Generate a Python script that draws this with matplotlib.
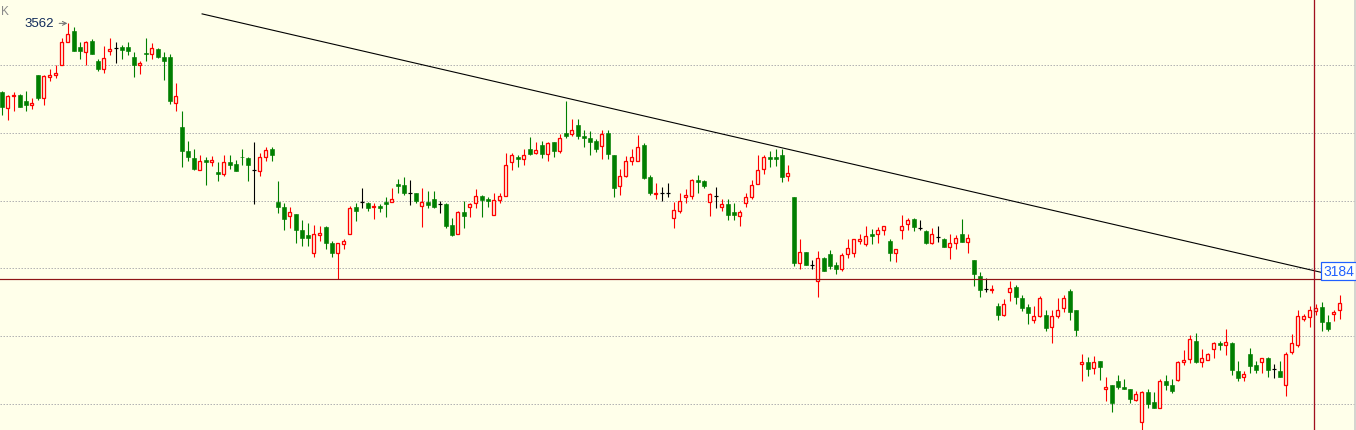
import numpy as np
import matplotlib
matplotlib.use("Agg")
import matplotlib.pyplot as plt

# daily bars (index 0 = leftmost candle)
opens = [3460, 3437, 3454, 3456, 3448, 3441, 3486, 3452, 3483, 3485,
         3500, 3535, 3551, 3527, 3519, 3536, 3507, 3494, 3521, 3526,
         3527, 3527, 3513, 3501, 3518, 3516, 3524, 3513, 3512, 3444,
         3409, 3374, 3363, 3346, 3360, 3357, 3342, 3340, 3357, 3354,
         3365, 3363, 3345, 3344, 3365, 3377, 3298, 3291, 3278, 3280,
         3256, 3249, 3223, 3249, 3261, 3237, 3223, 3236, 3251, 3291,
         3298, 3297, 3290, 3292, 3298, 3298, 3324, 3323, 3312, 3312,
         3292, 3298, 3302, 3295, 3295, 3264, 3251, 3283, 3290, 3296,
         3307, 3302, 3279, 3301, 3307, 3357, 3365, 3362, 3376, 3371,
         3382, 3369, 3386, 3374, 3400, 3398, 3412, 3396, 3392, 3388,
         3381, 3400, 3368, 3322, 3337, 3358, 3359, 3382, 3335, 3310,
         3312, 3312, 3274, 3284, 3305, 3307, 3330, 3329, 3298, 3307,
         3290, 3295, 3283, 3278, 3296, 3305, 3325, 3347, 3365, 3365,
         3368, 3337, 3306, 3208, 3224, 3205, 3181, 3215, 3221, 3205,
         3199, 3221, 3222, 3241, 3236, 3250, 3250, 3257, 3240, 3222,
         3257, 3266, 3273, 3260, 3255, 3237, 3246, 3244, 3232, 3238,
         3250, 3239, 3212, 3189, 3169, 3168, 3144, 3131, 3165, 3172,
         3156, 3143, 3124, 3130, 3131, 3114, 3130, 3141, 3166, 3138,
         3058, 3061, 3052, 3063, 3022, 3028, 3033, 3025, 3022, 3006,
         2973, 3017, 3002, 2994, 3034, 3028, 3035, 3061, 3066, 3093,
         3062, 3064, 3081, 3089, 3086, 3090, 3048, 3040, 3073, 3057,
         3061, 3067, 3051, 3048, 3028, 3076, 3086, 3125, 3128, 3137,
         3143, 3120, 3132, 3138]
highs = [3462, 3456, 3460, 3457, 3462, 3452, 3486, 3486, 3495, 3500,
         3540, 3562, 3557, 3535, 3536, 3539, 3509, 3528, 3540, 3534,
         3530, 3534, 3519, 3506, 3540, 3533, 3525, 3519, 3516, 3474,
         3433, 3388, 3377, 3368, 3365, 3366, 3357, 3368, 3368, 3360,
         3377, 3365, 3386, 3370, 3380, 3380, 3329, 3297, 3291, 3280,
         3271, 3267, 3264, 3262, 3262, 3240, 3238, 3244, 3292, 3297,
         3318, 3298, 3297, 3295, 3306, 3318, 3332, 3335, 3330, 3312,
         3318, 3314, 3314, 3300, 3297, 3274, 3285, 3300, 3297, 3317,
         3309, 3306, 3312, 3312, 3370, 3370, 3368, 3376, 3394, 3386,
         3388, 3386, 3386, 3398, 3448, 3421, 3421, 3404, 3403, 3391,
         3404, 3404, 3368, 3347, 3366, 3376, 3397, 3385, 3338, 3326,
         3320, 3326, 3298, 3312, 3317, 3332, 3338, 3330, 3311, 3320,
         3302, 3302, 3297, 3286, 3312, 3330, 3368, 3368, 3374, 3376,
         3377, 3353, 3306, 3243, 3224, 3212, 3225, 3217, 3227, 3209,
         3223, 3244, 3244, 3250, 3262, 3258, 3261, 3263, 3244, 3228,
         3279, 3274, 3274, 3271, 3256, 3260, 3262, 3245, 3250, 3249,
         3273, 3250, 3212, 3194, 3186, 3176, 3149, 3154, 3181, 3176,
         3161, 3147, 3144, 3159, 3138, 3138, 3156, 3161, 3169, 3138,
         3073, 3069, 3070, 3063, 3039, 3028, 3042, 3036, 3022, 3019,
         3019, 3022, 3017, 3036, 3042, 3036, 3063, 3079, 3101, 3104,
         3081, 3075, 3091, 3093, 3110, 3091, 3063, 3048, 3082, 3063,
         3067, 3069, 3059, 3063, 3076, 3103, 3138, 3133, 3144, 3148,
         3150, 3131, 3138, 3161]
lows = [3426, 3419, 3433, 3438, 3432, 3435, 3449, 3441, 3477, 3481,
        3500, 3535, 3521, 3510, 3500, 3516, 3492, 3489, 3515, 3503,
        3509, 3515, 3483, 3487, 3506, 3509, 3511, 3478, 3443, 3432,
        3350, 3359, 3345, 3346, 3323, 3351, 3329, 3337, 3347, 3344,
        3353, 3329, 3295, 3337, 3359, 3359, 3282, 3257, 3259, 3237,
        3233, 3233, 3217, 3241, 3229, 3217, 3184, 3229, 3251, 3270,
        3289, 3285, 3273, 3283, 3276, 3298, 3311, 3309, 3294, 3297,
        3261, 3289, 3289, 3282, 3259, 3248, 3251, 3259, 3276, 3289,
        3276, 3291, 3279, 3297, 3307, 3346, 3350, 3353, 3367, 3369,
        3363, 3359, 3364, 3371, 3392, 3395, 3391, 3379, 3368, 3372,
        3362, 3362, 3305, 3309, 3335, 3353, 3359, 3332, 3309, 3302,
        3299, 3305, 3260, 3282, 3297, 3302, 3311, 3318, 3277, 3289,
        3284, 3271, 3271, 3262, 3291, 3302, 3325, 3340, 3350, 3351,
        3327, 3329, 3203, 3199, 3205, 3199, 3158, 3196, 3199, 3191,
        3196, 3216, 3217, 3236, 3233, 3236, 3237, 3249, 3211, 3210,
        3243, 3257, 3255, 3257, 3236, 3236, 3239, 3231, 3214, 3228,
        3239, 3222, 3174, 3158, 3165, 3164, 3124, 3130, 3152, 3147,
        3137, 3118, 3119, 3128, 3107, 3089, 3126, 3135, 3124, 3100,
        3033, 3041, 3044, 3035, 3004, 2988, 3021, 3021, 3001, 3004,
        2958, 2994, 2994, 2994, 3020, 3016, 3034, 3057, 3060, 3060,
        3054, 3064, 3068, 3079, 3072, 3043, 3034, 3034, 3046, 3045,
        3045, 3040, 3038, 3039, 3012, 3074, 3084, 3122, 3113, 3131,
        3107, 3108, 3122, 3125]
closes = [3438, 3454, 3456, 3439, 3441, 3444, 3451, 3484, 3486, 3489,
          3534, 3546, 3521, 3521, 3534, 3516, 3495, 3511, 3524, 3526,
          3523, 3521, 3500, 3504, 3516, 3526, 3512, 3506, 3447, 3454,
          3373, 3364, 3347, 3358, 3357, 3360, 3340, 3357, 3352, 3344,
          3364, 3352, 3345, 3364, 3375, 3368, 3291, 3273, 3283, 3257,
          3245, 3245, 3250, 3252, 3237, 3223, 3237, 3240, 3289, 3285,
          3298, 3289, 3292, 3289, 3295, 3302, 3322, 3311, 3312, 3300,
          3298, 3294, 3291, 3295, 3262, 3249, 3283, 3278, 3295, 3307,
          3301, 3299, 3301, 3307, 3353, 3368, 3362, 3368, 3369, 3375,
          3369, 3385, 3373, 3393, 3396, 3405, 3396, 3392, 3387, 3376,
          3399, 3369, 3318, 3336, 3358, 3364, 3380, 3333, 3311, 3312,
          3312, 3312, 3286, 3300, 3308, 3330, 3328, 3322, 3310, 3307,
          3295, 3279, 3279, 3283, 3306, 3323, 3346, 3365, 3362, 3362,
          3335, 3341, 3208, 3224, 3205, 3205, 3216, 3196, 3204, 3199,
          3220, 3230, 3244, 3244, 3248, 3248, 3257, 3263, 3223, 3228,
          3263, 3272, 3261, 3260, 3237, 3250, 3246, 3231, 3238, 3245,
          3239, 3245, 3192, 3168, 3169, 3170, 3131, 3148, 3171, 3158,
          3142, 3134, 3130, 3156, 3112, 3130, 3138, 3156, 3136, 3109,
          3062, 3051, 3061, 3054, 3025, 3001, 3024, 3022, 3007, 3015,
          3017, 3000, 2994, 3034, 3028, 3018, 3061, 3064, 3095, 3062,
          3067, 3073, 3089, 3086, 3091, 3050, 3038, 3044, 3056, 3050,
          3067, 3050, 3051, 3039, 3074, 3089, 3129, 3130, 3138, 3142,
          3120, 3111, 3136, 3149]

# annotations / drawn objects
top_label = 3562
level_price = 3184
trend_start = (33.4, 3576)
trend_end = (220.2, 3193.5)
cursor_bar = 218.8
grid_prices = [3000, 3100, 3200, 3300, 3400, 3500]

BG = "#FFFFEA"
UP = "#FF0000"
DOWN = "#007F00"
PX = 0.72  # one pixel in points at dpi 100

fig = plt.figure(figsize=(13.56, 4.31), dpi=100, facecolor=BG)
ax = fig.add_axes([0, 0, 1, 1], facecolor=BG)

for p in grid_prices:
    ax.axhline(p, color="#B4B4B4", lw=PX, ls=(0, (1.5, 1.5)), zorder=1)

o = np.array(opens)
h = np.array(highs)
l = np.array(lows)
c = np.array(closes)
x = np.arange(len(o))
w = 0.72

for i in range(len(x)):
    if c[i] > o[i]:
        col = UP
    elif c[i] < o[i]:
        col = DOWN
    else:
        col = "black"
    ax.vlines(x[i], l[i], h[i], color=col, lw=PX * 1.1, zorder=2)
    if c[i] == o[i]:
        ax.hlines(o[i], x[i] - w / 2, x[i] + w / 2, color=col, lw=PX * 1.2, zorder=3)
    elif c[i] > o[i]:
        ax.bar(x[i], c[i] - o[i], bottom=o[i], width=w - 0.12, facecolor=BG,
               edgecolor=col, lw=PX * 1.3, zorder=3)
    else:
        ax.bar(x[i], o[i] - c[i], bottom=c[i], width=w, facecolor=col,
               edgecolor=col, lw=PX * 0.6, zorder=3)

# trend line across the highs
ax.plot([trend_start[0], trend_end[0]], [trend_start[1], trend_end[1]],
        color="black", lw=PX * 1.1, zorder=4)

# horizontal level and cursor
ax.axhline(level_price, xmax=0.998, color="#8E1515", lw=PX * 1.2, zorder=4)
ax.axvline(cursor_bar, color="#A01020", lw=PX * 1.3, zorder=4)
ax.axvline(225.55, color="#C8C8C8", lw=PX * 1.5, zorder=4)

ax.text(cursor_bar + 1.45, 3196.5, str(level_price), color="#2060FF", fontsize=10,
        family="Liberation Sans", ha="left", va="center", zorder=6,
        bbox=dict(boxstyle="square,pad=0.15", facecolor="#FFFFF8",
                  edgecolor="#2060FF", lw=PX * 1.2))

# highest price marker
imax = int(np.argmax(h))
ax.annotate(str(top_label), xy=(imax - 0.05, top_label), xytext=(imax - 2.35, top_label),
            color="#102A5A", fontsize=9.5, family="Liberation Sans",
            ha="right", va="center", zorder=6,
            arrowprops=dict(arrowstyle="->", color="#707070", lw=PX,
                            shrinkA=2, shrinkB=0, mutation_scale=7))

ax.text(0.0005, 0.985, "K", transform=ax.transAxes, color="#8A8A8A", fontsize=8.5,
        family="Liberation Sans", ha="left", va="top")

ax.set_xlim(-0.283, 225.72)
ax.set_ylim(2961.1, 3598.0)
ax.axis("off")

fig.savefig("out.png", dpi=100, facecolor=BG)
